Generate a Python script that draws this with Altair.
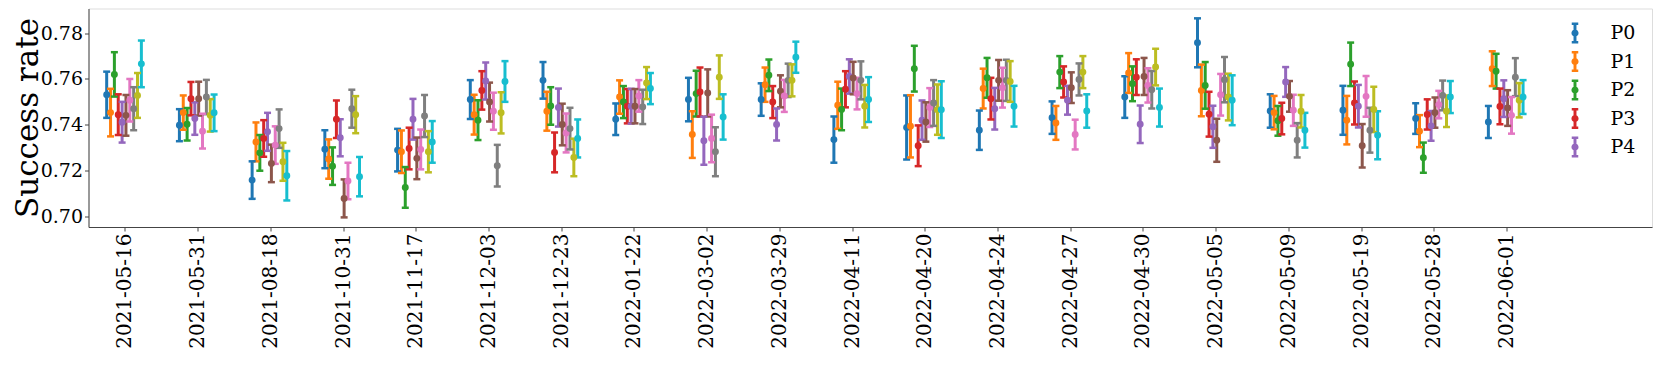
import altair as alt
import pandas as pd

dates = ["2021-05-16", "2021-05-31", "2021-08-18", "2021-10-31", "2021-11-17",
         "2021-12-03", "2021-12-23", "2022-01-22", "2022-03-02", "2022-03-29",
         "2022-04-11", "2022-04-20", "2022-04-24", "2022-04-27", "2022-04-30",
         "2022-05-05", "2022-05-09", "2022-05-19", "2022-05-28", "2022-06-01"]

series = ["P0", "P1", "P2", "P3", "P4", "P5", "P6", "P7", "P8", "P9"]
colors = ["#1f77b4", "#ff7f0e", "#2ca02c", "#d62728", "#9467bd",
          "#8c564b", "#e377c2", "#7f7f7f", "#bcbd22", "#17becf"]

mean_P0 = [.7531, .7398, .7158, .7293, .7289, .7510, .7594, .7424, .7510, .7510, .7335, .7388, .7376, .7431, .7521, .7758, .7460, .7463, .7427, .7412]
mean_P1 = [.7453, .7453, .7325, .7250, .7282, .7444, .7459, .7521, .7357, .7575, .7485, .7393, .7558, .7408, .7626, .7550, .7453, .7420, .7372, .7645]
mean_P2 = [.7620, .7402, .7277, .7219, .7126, .7420, .7482, .7499, .7536, .7616, .7467, .7645, .7605, .7630, .7579, .7572, .7417, .7664, .7256, .7634]
mean_P3 = [.7444, .7514, .7340, .7424, .7296, .7550, .7279, .7481, .7543, .7499, .7555, .7308, .7514, .7587, .7608, .7446, .7427, .7495, .7445, .7480]
mean_P4 = [.7411, .7427, .7369, .7343, .7424, .7591, .7475, .7481, .7330, .7401, .7611, .7420, .7470, .7507, .7402, .7391, .7587, .7481, .7395, .7514]
mean_P5 = [.7441, .7514, .7231, .7078, .7253, .7499, .7401, .7481, .7539, .7546, .7604, .7412, .7594, .7562, .7611, .7332, .7524, .7308, .7453, .7473]
mean_P6 = [.7507, .7372, .7311, .7154, .7292, .7459, .7364, .7526, .7340, .7526, .7536, .7475, .7562, .7357, .7572, .7531, .7463, .7524, .7488, .7441]
mean_P7 = [.7470, .7521, .7383, .7470, .7438, .7221, .7383, .7478, .7282, .7594, .7594, .7495, .7594, .7598, .7553, .7597, .7332, .7376, .7528, .7608]
mean_P8 = [.7528, .7441, .7238, .7444, .7282, .7452, .7257, .7582, .7608, .7594, .7481, .7466, .7589, .7630, .7652, .7521, .7459, .7467, .7459, .7507]
mean_P9 = [.7666, .7452, .7177, .7173, .7325, .7589, .7340, .7558, .7434, .7695, .7510, .7466, .7481, .7460, .7475, .7507, .7376, .7354, .7521, .7521]

err_P0 = [.0101, .0070, .0082, .0083, .0093, .0085, .0080, .0069, .0095, .0071, .0101, .0140, .0086, .0071, .0091, .0107, .0073, .0107, .0067, .0070]
err_P1 = [.0104, .0075, .0085, .0086, .0093, .0087, .0085, .0073, .0102, .0075, .0103, .0136, .0087, .0074, .0087, .0113, .0073, .0106, .0070, .0076]
err_P2 = [.0097, .0071, .0078, .0082, .0089, .0087, .0082, .0070, .0100, .0069, .0091, .0100, .0087, .0070, .0076, .0102, .0065, .0095, .0066, .0076]
err_P3 = [.0089, .0073, .0080, .0082, .0091, .0084, .0087, .0075, .0107, .0070, .0079, .0089, .0091, .0068, .0078, .0098, .0069, .0094, .0066, .0078]
err_P4 = [.0089, .0071, .0083, .0081, .0089, .0081, .0083, .0076, .0105, .0070, .0075, .0086, .0091, .0063, .0082, .0092, .0065, .0093, .0065, .0080]
err_P5 = [.0089, .0074, .0082, .0083, .0091, .0085, .0091, .0075, .0103, .0070, .0071, .0086, .0089, .0067, .0081, .0094, .0067, .0095, .0066, .0078]
err_P6 = [.0093, .0076, .0082, .0080, .0087, .0081, .0085, .0069, .0104, .0070, .0069, .0085, .0087, .0065, .0075, .0091, .0068, .0089, .0060, .0080]
err_P7 = [.0094, .0075, .0084, .0083, .0092, .0091, .0091, .0075, .0107, .0073, .0083, .0100, .0090, .0070, .0082, .0099, .0075, .0098, .0065, .0083]
err_P8 = [.0098, .0071, .0083, .0081, .0090, .0090, .0082, .0070, .0095, .0070, .0093, .0110, .0089, .0070, .0080, .0102, .0071, .0099, .0069, .0075]
err_P9 = [.0102, .0080, .0108, .0086, .0091, .0089, .0083, .0068, .0099, .0068, .0098, .0124, .0089, .0073, .0083, .0109, .0076, .0105, .0070, .0074]

means = [mean_P0, mean_P1, mean_P2, mean_P3, mean_P4, mean_P5, mean_P6, mean_P7, mean_P8, mean_P9]
errs = [err_P0, err_P1, err_P2, err_P3, err_P4, err_P5, err_P6, err_P7, err_P8, err_P9]

# dodge offset of each series within a date group (in category units)
group_width = 0.053
rows = []
for si, s in enumerate(series):
    for di in range(len(dates)):
        m = means[si][di]
        e = errs[si][di]
        rows.append({
            "series": s,
            "order": si,
            "xpos": di - 0.25 + si * group_width,
            "mean": m,
            "lo": m - e,
            "hi": m + e,
        })
df = pd.DataFrame(rows)

FONT = "DejaVu Serif"

x_enc = alt.X("xpos:Q",
              scale=alt.Scale(domain=[-0.5, 21], nice=False, zero=False),
              axis=alt.Axis(values=list(range(len(dates))),
                            labelExpr="[" + ",".join("'%s'" % d for d in dates) + "][datum.value]",
                            labelAngle=-90, labelAlign="right", labelBaseline="middle",
                            labelFont=FONT, labelFontSize=20, labelColor="black",
                            labelPadding=2, tickSize=4, tickColor="#444",
                            domainColor="#444", grid=False, title=None,
                            labelOverlap=False, labelBound=False, labelFlush=False))
y_scale = alt.Scale(domain=[0.6953, 0.7908], nice=False, zero=False)
y_axis = alt.Axis(values=[0.70, 0.72, 0.74, 0.76, 0.78], format=".2f",
                  labelFont=FONT, labelFontSize=19, labelColor="black",
                  labelPadding=2, tickSize=4, tickColor="#444", domainColor="#444",
                  grid=False, title="Success rate", titleFont=FONT, titleFontSize=31,
                  titleFontWeight="normal", titleColor="black",
                  titleX=-51.5, titleY=109, titleAngle=-90, titleAlign="center",
                  titleBaseline="alphabetic")

color_scale = alt.Scale(domain=series, range=colors)

legend_path = ("M-0.14,-0.85H0.14V0.85H-0.14Z"
               "M-0.31,-1H0.31V-0.77H-0.31Z"
               "M-0.31,0.77H0.31V1H-0.31Z"
               "M-0.34,0A0.34,0.34 0 1,1 0.34,0A0.34,0.34 0 1,1 -0.34,0Z")

base = alt.Chart(df)

bars = base.mark_rule(strokeWidth=3).encode(
    x=x_enc,
    y=alt.Y("lo:Q", scale=y_scale, axis=y_axis),
    y2="hi:Q",
    color=alt.Color("series:N", scale=color_scale, legend=None),
)
caps_lo = base.mark_tick(orient="horizontal", size=7, thickness=2.5, opacity=1).encode(
    x=x_enc,
    y=alt.Y("lo:Q", scale=y_scale, axis=y_axis),
    color=alt.Color("series:N", scale=color_scale, legend=None),
)
caps_hi = base.mark_tick(orient="horizontal", size=7, thickness=2.5, opacity=1).encode(
    x=x_enc,
    y=alt.Y("hi:Q", scale=y_scale, axis=y_axis),
    color=alt.Color("series:N", scale=color_scale, legend=None),
)
points = base.mark_point(filled=True, size=48, opacity=1).encode(
    x=x_enc,
    y=alt.Y("mean:Q", scale=y_scale, axis=y_axis),
    color=alt.Color("series:N", scale=color_scale,
                    legend=alt.Legend(values=["P0", "P1", "P2", "P3", "P4"],
                                      title=None, orient="none",
                                      legendX=1476, legendY=14,
                                      symbolType=legend_path, symbolSize=441,
                                      symbolStrokeWidth=0, symbolOpacity=1,
                                      labelFont=FONT, labelFontSize=19,
                                      labelColor="black", labelOffset=25,
                                      rowPadding=7.5, padding=0)),
)

chart = alt.layer(bars, caps_lo, caps_hi, points).resolve_legend(
    color="independent"
).properties(
    width=1563.5, height=218.5,
    autosize=alt.AutoSizeParams(type="none"),
    padding={"left": 80.5, "top": 0.5, "right": 1, "bottom": 140},
).configure_view(stroke="#444", strokeWidth=1).configure(background="white")

chart.save("out.html", embed_options={"renderer": "svg", "actions": False})
